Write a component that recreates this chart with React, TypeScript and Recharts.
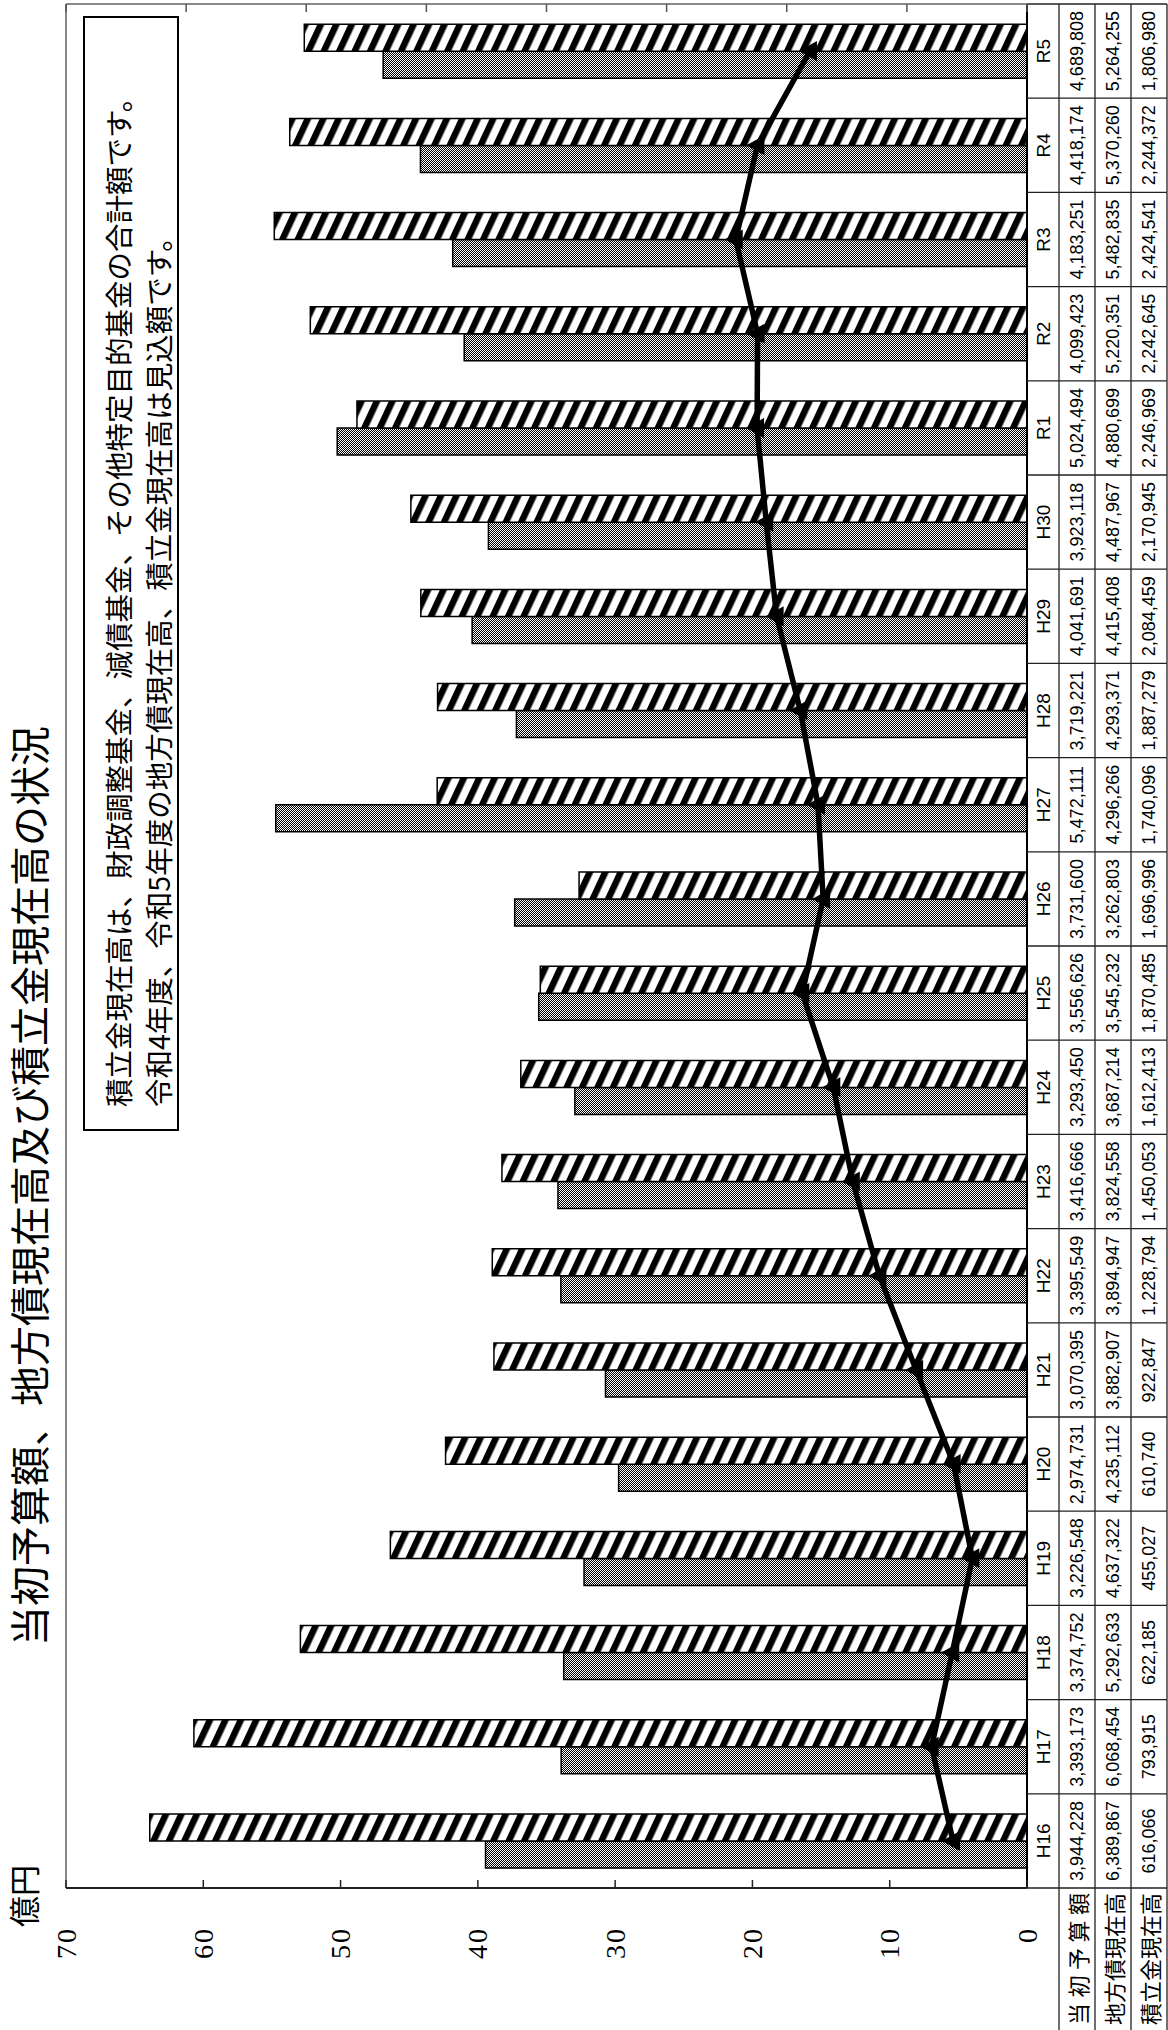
import { ComposedChart, Bar, Line, XAxis, YAxis, ReferenceLine } from 'recharts'

// 年度
const categories = ['H16', 'H17', 'H18', 'H19', 'H20', 'H21', 'H22', 'H23', 'H24', 'H25', 'H26', 'H27', 'H28', 'H29', 'H30', 'R1', 'R2', 'R3', 'R4', 'R5']
// 千円
const budget = [3944228, 3393173, 3374752, 3226548, 2974731, 3070395, 3395549, 3416666, 3293450, 3556626, 3731600, 5472111, 3719221, 4041691, 3923118, 5024494, 4099423, 4183251, 4418174, 4689808]
const debt = [6389867, 6068454, 5292633, 4637322, 4235112, 3882907, 3894947, 3824558, 3687214, 3545232, 3262803, 4296266, 4293371, 4415408, 4487967, 4880699, 5220351, 5482835, 5370260, 5264255]
const fund = [616066, 793915, 622185, 455027, 610740, 922847, 1228794, 1450053, 1612413, 1870485, 1696996, 1740096, 1887279, 2084459, 2170945, 2246969, 2242645, 2424541, 2244372, 1806980]

const leftTicks = [0, 10, 20, 30, 40, 50, 60, 70]
const rightTicks = [0, 10, 20, 30, 40, 50, 60, 70, 80]
const rowLabels = ['当初予算額', '地方債現在高', '積立金現在高']

const title = '当初予算額、地方債現在高及び積立金現在高の状況'
const noteLines = [
  '積立金現在高は、財政調整基金、減債基金、その他特定目的基金の合計額です。',
  '令和4年度、令和5年度の地方債現在高、積立金現在高は見込額です。',
]

// layout (chart drawn landscape, then turned 90deg counter-clockwise)
const W = 2030
const H = 1168
const LEFT_W = 142
const RIGHT_W = 4
const TOP = 66
const TABLE_H = 141
const BAND = (W - LEFT_W - RIGHT_W) / categories.length
const ROWS = [0, 32, 68, 104, 140]

const toOku = (v: number) => v / 100000
const fmt = (v: number) => v.toLocaleString('en-US')

const data = categories.map((c, i) => ({
  cat: c,
  budget: toOku(budget[i]),
  debt: toOku(debt[i]),
  fund: toOku(fund[i]),
}))

const tableFont = 'Liberation Sans, Arial, sans-serif'
const jpFont = '"Noto Sans CJK JP", sans-serif'

function TableTick(props: any) {
  const { x, y, payload, index } = props
  const i = index ?? categories.indexOf(payload.value)
  const l = x - BAND / 2
  const r = x + BAND / 2
  const values = [budget[i], debt[i], fund[i]]
  return (
    <g>
      <line x1={l} x2={l} y1={y} y2={y + ROWS[4]} stroke="#222" strokeWidth={1.3} />
      {i === categories.length - 1 && (
        <line x1={r} x2={r} y1={y} y2={y + ROWS[4]} stroke="#222" strokeWidth={1.3} />
      )}
      {ROWS.slice(1).map((dy) => (
        <line key={dy} x1={l} x2={r} y1={y + dy} y2={y + dy} stroke="#222" strokeWidth={1.3} />
      ))}
      <text x={x} y={y + (ROWS[0] + ROWS[1]) / 2} textAnchor="middle" dominantBaseline="central"
        fontSize={19} fontFamily={tableFont} fill="#000">{payload.value}</text>
      {values.map((v, k) => (
        <text key={k} x={x} y={y + (ROWS[k + 1] + ROWS[k + 2]) / 2} textAnchor="middle" dominantBaseline="central"
          fontSize={18} fontFamily={tableFont} fill="#000">{fmt(v)}</text>
      ))}
      {i === 0 && (
        <g>
          {ROWS.slice(1).map((dy) => (
            <line key={dy} x1={l - LEFT_W} x2={l} y1={y + dy} y2={y + dy} stroke="#222" strokeWidth={1.3} />
          ))}
          {rowLabels.map((t, k) => (
            <text key={t} x={l - LEFT_W / 2} y={y + (ROWS[k + 1] + ROWS[k + 2]) / 2} textAnchor="middle"
              dominantBaseline="central" fontSize={22} fontFamily={jpFont} fill="#000"
              textLength={132} lengthAdjust="spacing">{t}</text>
          ))}
        </g>
      )}
    </g>
  )
}

function LeftTick(props: any) {
  const { x, y, payload } = props
  return (
    <g>
      <line x1={x + 39} x2={x + 47} y1={y} y2={y} stroke="#222" strokeWidth={1.5} />
      <text x={x} y={y} textAnchor="end" dominantBaseline="central" fontSize={28}
        fontFamily="Liberation Serif, serif" letterSpacing={2} fill="#000">{payload.value}</text>
    </g>
  )
}

function RightTick(props: any) {
  const { x, y } = props
  return <line x1={x - 8} x2={x} y1={y} y2={y} stroke="#555" strokeWidth={1.5} />
}

function TriangleDot(props: any) {
  const { cx, cy, index } = props
  return <path key={`t${index}`} d={`M${cx},${cy - 11} L${cx + 10},${cy + 7} L${cx - 10},${cy + 7} Z`} fill="#000" />
}

export default function App() {
  return (
    <div style={{ position: 'absolute', left: 0, top: 0, width: H, height: W, overflow: 'hidden', background: '#fff' }}>
      <div style={{ position: 'absolute', left: 0, top: 0, width: W, height: H, transformOrigin: '0 0', transform: `translate(0px, ${W}px) rotate(-90deg)` }}>
        <ComposedChart width={W} height={H} data={data} margin={{ top: TOP, right: 0, left: 0, bottom: 0 }} barSize={27} barGap={0}>
          <defs>
            <pattern id="hatch" patternUnits="userSpaceOnUse" width={40} height={14} patternTransform="rotate(25)">
              <rect width={40} height={14} fill="#fff" />
              <rect width={40} height={6.5} fill="#000" />
            </pattern>
            <pattern id="dots" patternUnits="userSpaceOnUse" width={2} height={2}>
              <rect width={2} height={2} fill="#fff" />
              <rect width={1} height={1} fill="#000" />
              <rect x={1} y={1} width={1} height={1} fill="#000" />
            </pattern>
          </defs>
          <XAxis dataKey="cat" height={TABLE_H} interval={0} tickLine={false} tickSize={0} tickMargin={0}
            axisLine={{ stroke: '#000', strokeWidth: 2 }} tick={<TableTick />} />
          <YAxis yAxisId="left" orientation="left" width={LEFT_W} type="number" domain={[0, 70]} ticks={leftTicks}
            tickLine={false} tickSize={0} tickMargin={39} axisLine={{ stroke: '#222', strokeWidth: 2 }} tick={<LeftTick />} />
          <YAxis yAxisId="right" orientation="right" width={RIGHT_W} type="number" domain={[0, 80]} ticks={rightTicks}
            tickLine={false} tickSize={0} tickMargin={0} axisLine={{ stroke: '#888', strokeWidth: 2 }} tick={<RightTick />} />
          <ReferenceLine yAxisId="left" y={70} stroke="#888" strokeWidth={2} />
          <Bar yAxisId="left" dataKey="budget" fill="url(#dots)" stroke="#000" strokeWidth={1.5} isAnimationActive={false} />
          <Bar yAxisId="left" dataKey="debt" fill="url(#hatch)" stroke="#000" strokeWidth={1.5} isAnimationActive={false} />
          <Line yAxisId="right" type="linear" dataKey="fund" stroke="#000" strokeWidth={5.5}
            dot={(p: any) => <TriangleDot {...p} key={`d${p.index}`} />} isAnimationActive={false} />
        </ComposedChart>
        <svg width={W} height={H} style={{ position: 'absolute', left: 0, top: 0, pointerEvents: 'none' }}>
          <text x={844} y={45} textAnchor="middle" fontSize={40} fontFamily={jpFont} fill="#000">{title}</text>
          <text x={103} y={36} fontSize={31} fontFamily={jpFont} fill="#000">億円</text>
          <rect x={900} y={84} width={1113} height={94} fill="#fff" stroke="#000" strokeWidth={2} />
          {noteLines.map((t, k) => (
            <text key={k} x={923} y={117 + k * 40} dominantBaseline="central" fontSize={28.5} fontFamily={jpFont} fill="#000">{t}</text>
          ))}
        </svg>
      </div>
    </div>
  )
}
